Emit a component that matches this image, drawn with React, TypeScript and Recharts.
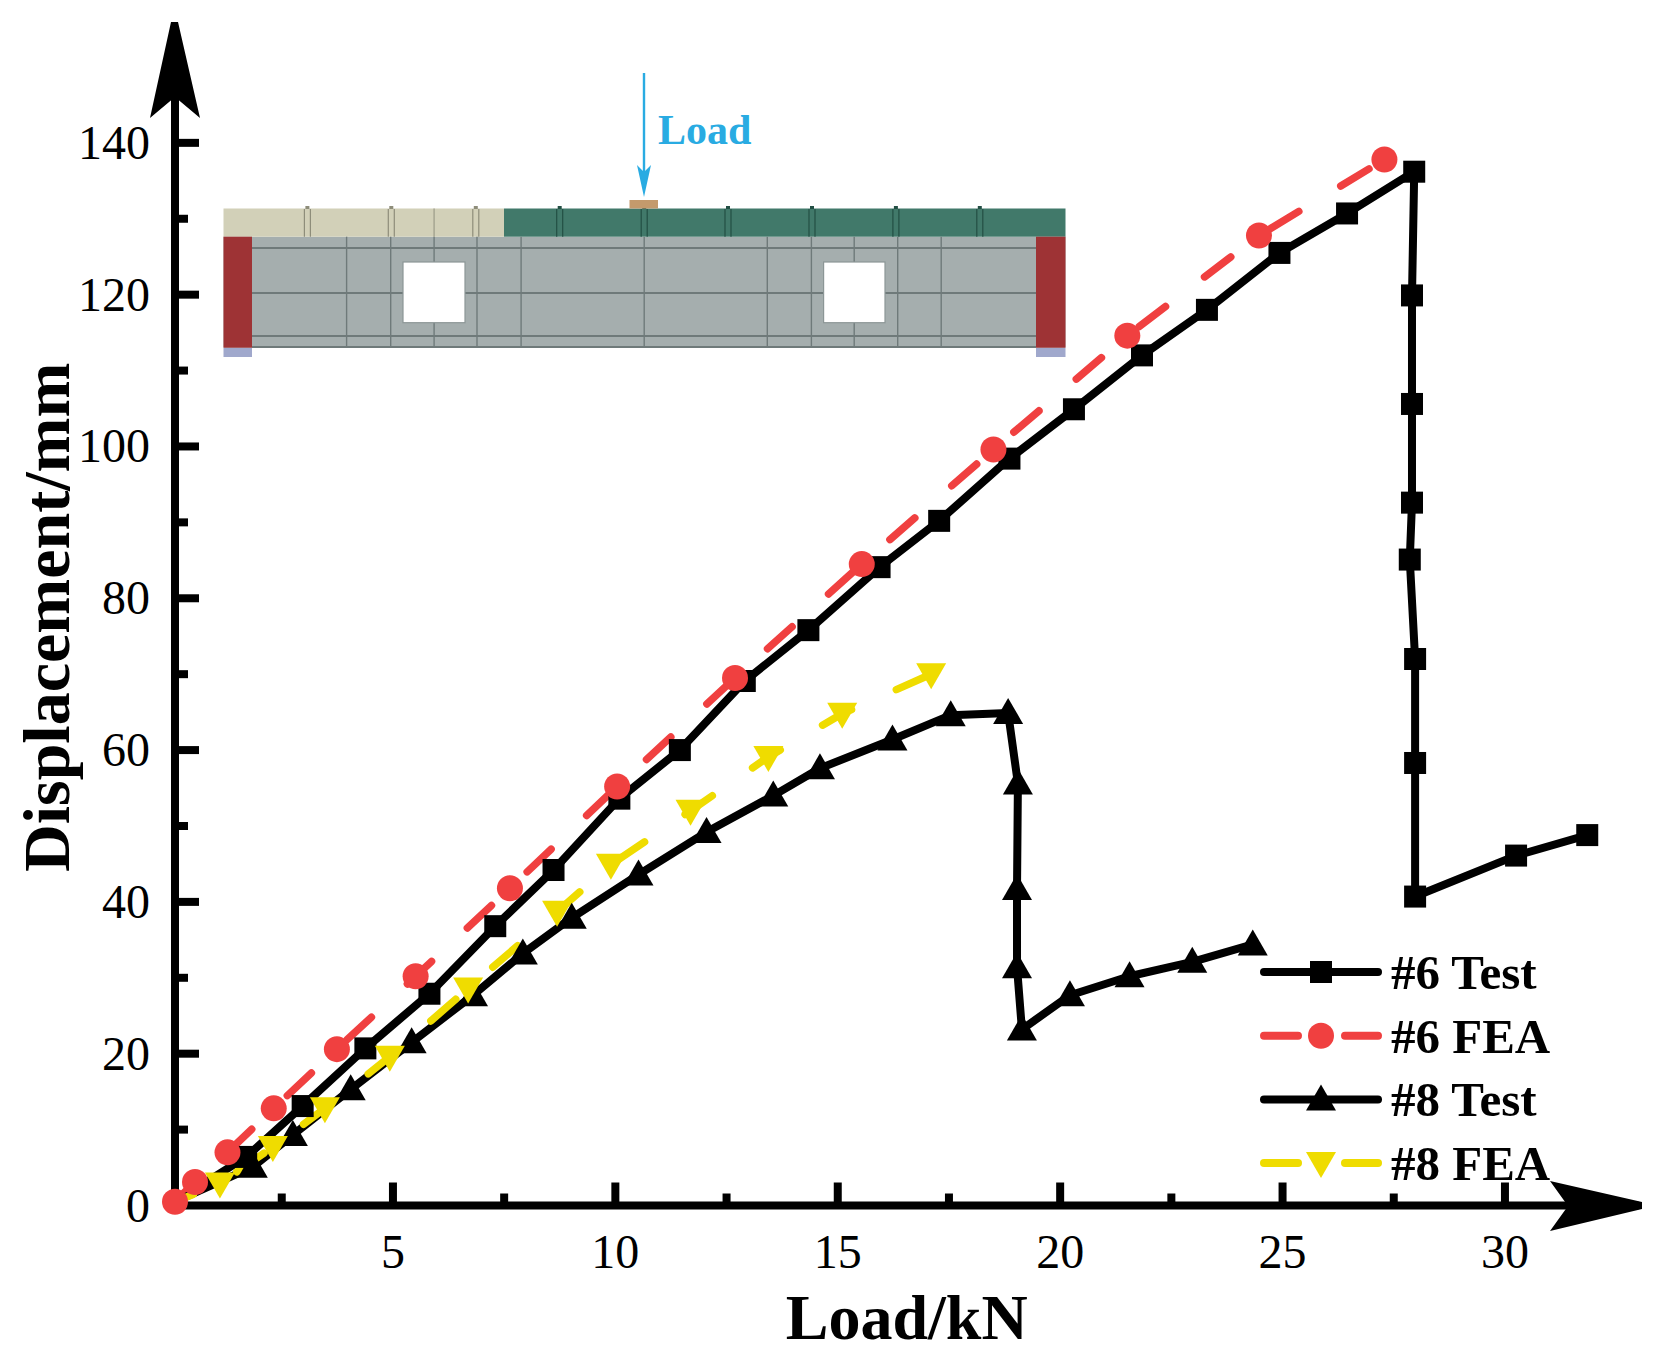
import { LineChart, Line, XAxis, YAxis, Legend } from "recharts";

const SERIF = '"Liberation Serif", "Times New Roman", serif';

// values
const test6Load = [0.1, 1.7, 2.97, 4.38, 5.82, 7.3, 8.61, 10.09, 11.45, 12.91, 14.34, 15.94, 17.28, 18.86, 20.31, 21.84, 23.3, 24.93, 26.45, 27.96, 27.91, 27.91, 27.91, 27.86, 27.98, 27.98, 27.98, 30.25, 31.85];
const test6Disp = [0.5, 6.4, 13.1, 20.7, 27.9, 36.8, 44.2, 53.6, 60.0, 69.1, 75.8, 84.1, 90.2, 98.4, 104.9, 112.0, 118.0, 125.5, 130.7, 136.2, 119.9, 105.6, 92.6, 85.1, 72.0, 58.3, 40.7, 46.1, 48.8];

const fea6Load = [0.1, 0.55, 1.28, 2.32, 3.74, 5.51, 7.63, 10.04, 12.69, 15.54, 18.5, 21.51, 24.47, 27.29];
const fea6Disp = [0.5, 3.1, 7.0, 12.8, 20.6, 30.2, 41.8, 55.2, 69.5, 84.5, 99.6, 114.6, 127.8, 137.8];

const test8Load = [0.1, 1.85, 2.75, 4.05, 5.42, 6.8, 7.92, 9.02, 10.52, 12.05, 13.55, 14.6, 16.23, 17.54, 18.83, 19.05, 19.03, 19.03, 19.14, 20.22, 21.56, 22.97, 24.33];
const test8Disp = [0.5, 5.1, 9.3, 15.3, 21.5, 27.7, 33.2, 37.9, 43.6, 49.2, 54.0, 57.6, 61.4, 64.6, 64.9, 55.6, 41.7, 31.4, 23.2, 27.7, 30.2, 32.1, 34.4];

const fea8Load = [0.1, 1.11, 2.3, 3.47, 4.93, 6.69, 8.69, 9.9, 11.69, 13.44, 15.1, 17.1];
const fea8Disp = [0.5, 2.9, 7.7, 12.8, 19.6, 28.6, 38.7, 44.9, 52.0, 59.1, 64.8, 70.0];

const xTicks = [2.5, 5, 7.5, 10, 12.5, 15, 17.5, 20, 22.5, 25, 27.5, 30];
const yTicks = [0, 10, 20, 30, 40, 50, 60, 70, 80, 90, 100, 110, 120, 130, 140];

const zip = (xs: number[], ys: number[]) => xs.map((x, i) => ({ x, y: ys[i] }));

const BLACK = "#000000";
const RED = "#F04040";
const YELLOW = "#EFDC00";

type Shape = "square" | "circle" | "up" | "down";

function marker(shape: Shape, cx: number, cy: number, fill: string, key?: string | number) {
  if (shape === "square") return <rect key={key} x={cx - 11} y={cy - 11} width={22} height={22} fill={fill} />;
  if (shape === "circle") return <circle key={key} cx={cx} cy={cy} r={13} fill={fill} />;
  if (shape === "up")
    return <polygon key={key} points={`${cx},${cy - 15} ${cx + 15},${cy + 11} ${cx - 15},${cy + 11}`} fill={fill} />;
  return <polygon key={key} points={`${cx},${cy + 15} ${cx + 15},${cy - 11} ${cx - 15},${cy - 11}`} fill={fill} />;
}

// the start point at the origin has no visible marker on three of the series
const dotOf = (shape: Shape, fill: string, skipFirst = true) => (p: any) =>
  skipFirst && p.index === 0 ? <g key={p.index} /> : marker(shape, p.cx, p.cy, fill, p.index);

const XTick = (p: any) => {
  const v = p.payload.value;
  const major = v % 5 === 0;
  return (
    <g>
      <line x1={p.x} x2={p.x} y1={p.y} y2={p.y - (major ? 23 : 12)} stroke={BLACK} strokeWidth={8} />
      {major && (
        <text x={p.x} y={p.y + 62} textAnchor="middle" fontSize={48} fontFamily={SERIF} fill={BLACK}>
          {v}
        </text>
      )}
    </g>
  );
};

const YTick = (p: any) => {
  const v = p.payload.value;
  const major = v % 20 === 0;
  return (
    <g>
      {v !== 0 && <line x1={p.x} x2={p.x + (major ? 24 : 13)} y1={p.y} y2={p.y} stroke={BLACK} strokeWidth={8} />}
      {major && (
        <text x={150} y={p.y + 16} textAnchor="end" fontSize={48} fontFamily={SERIF} fill={BLACK}>
          {v}
        </text>
      )}
    </g>
  );
};

const legendShapes: Record<string, Shape> = {
  "#6 Test": "square",
  "#6 FEA": "circle",
  "#8 Test": "up",
  "#8 FEA": "down",
};

const LegendBox = (props: any) => (
  <svg width={400} height={260} style={{ display: "block", overflow: "visible" }}>
    {(props.payload || []).map((item: any, i: number) => {
      const y = 22 + i * 63.7;
      const dashed = item.value.includes("FEA");
      return (
        <g key={item.value}>
          {dashed ? (
            <g stroke={item.color} strokeWidth={8} strokeLinecap="round">
              <line x1={18} x2={52} y1={y} y2={y} />
              <line x1={99} x2={132} y1={y} y2={y} />
            </g>
          ) : (
            <line x1={18} x2={132} y1={y} y2={y} stroke={item.color} strokeWidth={8} strokeLinecap="round" />
          )}
          {marker(legendShapes[item.value], 75, y, item.color)}
          <text x={145} y={y + 17} fontSize={49} fontWeight="bold" fontFamily={SERIF} fill={BLACK}>
            {item.value}
          </text>
        </g>
      );
    })}
  </svg>
);

// beam drawing in the upper left, picture only, no data
const webLines = [346.6, 390.7, 434.1, 477, 521.1, 644.2, 767.3, 811.4, 854.2, 897.7, 941.2];
const webRows = [248, 293, 336, 347];
const ribs = [307.4, 391.3, 475.8, 559.7, 644.2, 728, 812, 895.9, 979.8];

const Overlay = () => (
  <svg width={1666} height={1364} style={{ position: "absolute", left: 0, top: 0, pointerEvents: "none" }}>
    {/* axis arrows */}
    <polygon points="171,22 178,22 200,118 175,97 150,118" fill={BLACK} />
    <polygon points="1642,1202 1642,1209 1550,1231 1568,1206 1550,1181" fill={BLACK} />

    {/* beam */}
    <rect x={223.5} y={236.7} width={842} height={111} fill="#A5AEAE" />
    <rect x={223.5} y={208.5} width={280.5} height={28.2} fill="#D2D0B8" />
    <rect x={504} y={208.5} width={561.5} height={28.2} fill="#41796A" />
    {webLines.map((x) => (
      <line key={x} x1={x} x2={x} y1={236.7} y2={348} stroke="#6F7A7A" strokeWidth={1.4} />
    ))}
    <line x1={434.1} x2={434.1} y1={208.5} y2={236.7} stroke="#A3A28E" strokeWidth={1.4} />
    {webRows.map((y) => (
      <line key={y} x1={252} x2={1036} y1={y} y2={y} stroke="#6F7A7A" strokeWidth={1.8} />
    ))}
    {ribs.map((x) => (
      <g key={x} stroke={x < 504 ? "#8E8D7A" : "#234F44"} strokeWidth={1.2}>
        <line x1={x - 3} x2={x - 3} y1={209} y2={236.7} />
        <line x1={x + 3} x2={x + 3} y1={209} y2={236.7} />
        <line x1={x - 2} x2={x + 2} y1={207.5} y2={207.5} strokeWidth={3} />
      </g>
    ))}
    <rect x={403} y={262} width={62} height={60.7} fill="#FFFFFF" stroke="#8C9696" strokeWidth={1.2} />
    <rect x={823.6} y={262} width={61.4} height={60.7} fill="#FFFFFF" stroke="#8C9696" strokeWidth={1.2} />
    <rect x={223.5} y={236.7} width={28.5} height={111} fill="#9E3335" />
    <rect x={1036} y={236.7} width={29.5} height={111} fill="#9E3335" />
    <rect x={223.5} y={348} width={28.5} height={9} fill="#A0A8CC" />
    <rect x={1036} y={348} width={29.5} height={9} fill="#A0A8CC" />
    <rect x={629.5} y={200} width={28.5} height={8.5} fill="#C49A6C" />

    {/* load arrow */}
    <line x1={644} x2={644} y1={73} y2={180} stroke="#29ABE2" strokeWidth={2.4} />
    <polygon points="637,165 644,172 651,165 644,197" fill="#29ABE2" />
    <text x={658} y={144} fontSize={42} fontWeight="bold" fontFamily={SERIF} fill="#29ABE2">
      Load
    </text>
  </svg>
);

export default function App() {
  return (
    <div style={{ position: "absolute", left: 0, top: 0, width: 1666, height: 1364, background: "#fff" }}>
      <LineChart width={1666} height={1364} margin={{ top: 29, right: 27.6, bottom: 58.5, left: 0 }}>
        <XAxis
          type="number"
          dataKey="x"
          domain={[0.1, 33]}
          ticks={xTicks}
          interval={0}
          height={100}
          tick={XTick}
          tickLine={false}
          tickSize={0}
          tickMargin={0}
          axisLine={{ stroke: BLACK, strokeWidth: 8 }}
          label={{
            value: "Load/kN",
            position: "insideBottom",
            offset: -33,
            style: { fontFamily: SERIF, fontSize: 64, fontWeight: "bold", fill: BLACK },
          }}
        />
        <YAxis
          type="number"
          dataKey="y"
          domain={[0, 155]}
          ticks={yTicks}
          interval={0}
          width={175}
          tick={YTick}
          tickLine={false}
          tickSize={0}
          tickMargin={0}
          axisLine={{ stroke: BLACK, strokeWidth: 8 }}
          label={{
            value: "Displacement/mm",
            angle: -90,
            position: "insideLeft",
            offset: 46,
            style: { fontFamily: SERIF, fontSize: 66, fontWeight: "bold", fill: BLACK, textAnchor: "middle" },
          }}
        />
        <Legend
          content={LegendBox}
          itemSorter={null}
          wrapperStyle={{ position: "absolute", left: 1246, top: 950, width: 0, height: 0, overflow: "visible" }}
        />
        <Line
          name="#6 Test"
          data={zip(test6Load, test6Disp)}
          dataKey="y"
          type="linear"
          stroke={BLACK}
          strokeWidth={8}
          strokeLinejoin="round"
          dot={dotOf("square", BLACK)}
          isAnimationActive={false}
        />
        <Line
          name="#6 FEA"
          data={zip(fea6Load, fea6Disp)}
          dataKey="y"
          type="linear"
          stroke={RED}
          strokeWidth={7.5}
          strokeLinecap="round"
          strokeDasharray="33 49"
          strokeDashoffset={9.5}
          dot={dotOf("circle", RED, false)}
          isAnimationActive={false}
        />
        <Line
          name="#8 Test"
          data={zip(test8Load, test8Disp)}
          dataKey="y"
          type="linear"
          stroke={BLACK}
          strokeWidth={8}
          strokeLinejoin="round"
          dot={dotOf("up", BLACK)}
          isAnimationActive={false}
        />
        <Line
          name="#8 FEA"
          data={zip(fea8Load, fea8Disp)}
          dataKey="y"
          type="linear"
          stroke={YELLOW}
          strokeWidth={7.5}
          strokeLinecap="round"
          strokeDasharray="33 49"
          strokeDashoffset={13}
          dot={dotOf("down", YELLOW)}
          isAnimationActive={false}
        />
      </LineChart>
      <Overlay />
    </div>
  );
}
